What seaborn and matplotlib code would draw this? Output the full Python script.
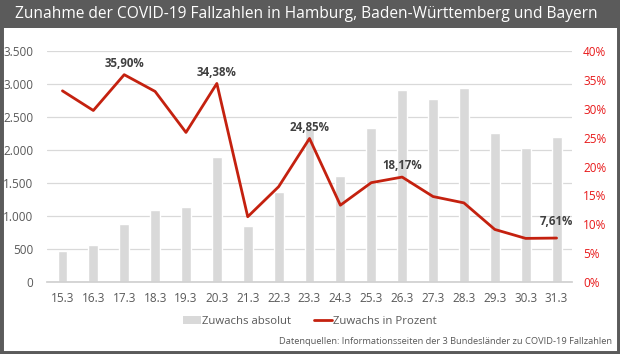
import matplotlib
matplotlib.use("Agg")
import matplotlib.pyplot as plt
import seaborn as sns
import numpy as np
import pandas as pd
from matplotlib.patches import Rectangle, Patch
from matplotlib.lines import Line2D
from matplotlib.ticker import FuncFormatter, MultipleLocator

dates = ["15.3", "16.3", "17.3", "18.3", "19.3", "20.3", "21.3", "22.3", "23.3",
         "24.3", "25.3", "26.3", "27.3", "28.3", "29.3", "30.3", "31.3"]
absolut = [470, 560, 880, 1090, 1140, 1900, 845, 1360, 2330,
           1610, 2340, 2905, 2775, 2945, 2258, 2035, 2197]
prozent = [33.1, 29.7, 35.90, 33.0, 25.9, 34.38, 11.3, 16.5, 24.85,
           13.3, 17.2, 18.17, 14.8, 13.7, 9.1, 7.55, 7.61]
labelled = {"17.3": "35,90%", "20.3": "34,38%", "23.3": "24,85%",
            "26.3": "18,17%", "31.3": "7,61%"}

title = "Zunahme der COVID-19 Fallzahlen in Hamburg, Baden-Württemberg und Bayern"
source = "Datenquellen: Informationsseiten der 3 Bundesländer zu COVID-19 Fallzahlen"

sns.set_theme(style="white")
plt.rcParams["font.family"] = ["Open Sans", "DejaVu Sans"]

BAR = "#d9d9d9"
LINE = "#c4210f"
RED = "#e8191a"
TXT = "#595959"
FRAME = "#5b5b5b"

fig = plt.figure(figsize=(6.2, 3.54), dpi=100)
fig.patch.set_facecolor("white")

# frame and title bar
fig.add_artist(Rectangle((0, 0), 1, 1, transform=fig.transFigure, fill=False,
                         edgecolor=FRAME, linewidth=5, zorder=10))
fig.add_artist(Rectangle((0, 1 - 28 / 354), 1, 28 / 354, transform=fig.transFigure,
                         facecolor=FRAME, edgecolor="none", zorder=9))
fig.text(15 / 620, 1 - 14.5 / 354, title, color="white", fontsize=11.2,
         va="center", ha="left", zorder=11)

ax = fig.add_axes([47 / 620, 1 - 282 / 354, (572 - 47) / 620, (282 - 51) / 354])
df = pd.DataFrame({"Datum": dates, "absolut": absolut, "prozent": prozent})
sns.barplot(data=df, x="Datum", y="absolut", color=BAR, width=0.32, ax=ax,
            saturation=1, zorder=2)
ax.set_ylim(0, 3500)
ax.set_xlim(-0.5, len(dates) - 0.5)
ax.yaxis.set_major_locator(MultipleLocator(500))
ax.yaxis.set_major_formatter(FuncFormatter(lambda v, p: f"{int(v):,}".replace(",", ".")))
ax.grid(axis="y", color="#d9d9d9", linewidth=0.9, zorder=0)
ax.set_axisbelow(True)
ax.set_xlabel("")
ax.set_ylabel("")
for s in ["top", "right", "left"]:
    ax.spines[s].set_visible(False)
ax.spines["bottom"].set_color("#d0d0d0")
ax.tick_params(axis="y", colors=TXT, labelsize=8.5, length=0, pad=10)
ax.tick_params(axis="x", colors=TXT, labelsize=8.5, length=0, pad=7)
ax.set_xticks(np.arange(-0.5, len(dates), 1), minor=True)
ax.tick_params(axis="x", which="minor", length=4, color="#d0d0d0", width=0.8)

ax2 = ax.twinx()
xpos = np.arange(len(dates))
sns.lineplot(x=xpos, y=prozent, color=LINE, linewidth=2.0, ax=ax2, zorder=3)
ax2.set_ylim(0, 40)
ax2.set_xlim(-0.5, len(dates) - 0.5)
ax2.yaxis.set_major_locator(MultipleLocator(5))
ax2.yaxis.set_major_formatter(FuncFormatter(lambda v, p: f"{int(v)}%"))
ax2.tick_params(axis="y", colors=RED, labelsize=8.5, length=0, pad=8)
for s in ax2.spines.values():
    s.set_visible(False)
ax2.set_ylabel("")

offsets = {"31.3": 7}
for i, d in enumerate(dates):
    if d in labelled:
        ax2.annotate(labelled[d], (i, prozent[i]), xytext=(0, offsets.get(d, 3.5)),
                     textcoords="offset points", ha="center", va="bottom",
                     fontsize=8.3, fontweight="bold", color="#404040", zorder=5)

handles = [Patch(facecolor=BAR, edgecolor="none"),
           Line2D([0], [0], color=LINE, linewidth=2)]
fig.legend(handles, ["Zuwachs absolut", "Zuwachs in Prozent"],
           loc="center", bbox_to_anchor=(0.5, 1 - 321 / 354), ncol=2, frameon=False,
           fontsize=8.2, labelcolor=TXT, handlelength=1.6, handletextpad=0.1,
           columnspacing=2.0)

fig.text(1 - 8 / 620, 1 - 341 / 354, source, ha="right", va="center",
         fontsize=6.7, color=TXT)

fig.savefig("out.png", dpi=100, facecolor="white")
